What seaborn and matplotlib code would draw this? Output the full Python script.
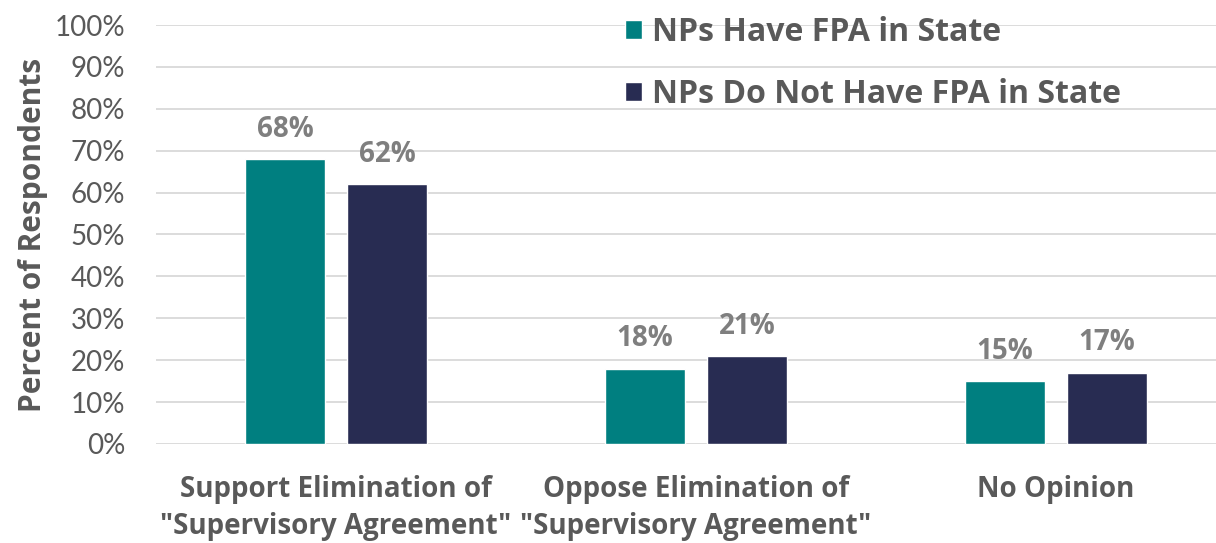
import numpy as np
import pandas as pd
import seaborn as sns
import matplotlib.pyplot as plt
from matplotlib.patches import Patch

# 数据
categories = ['Support Elimination of\n"Supervisory Agreement"',
              'Oppose Elimination of\n"Supervisory Agreement"',
              'No Opinion']
groups = ['NPs Have FPA in State', 'NPs Do Not Have FPA in State']
have_fpa = [68, 18, 15]
no_fpa = [62, 21, 17]
colors = ['#007F80', '#282C52']

df = pd.DataFrame({
    'category': categories * 2,
    'group': [groups[0]] * 3 + [groups[1]] * 3,
    'pct': have_fpa + no_fpa,
})

sns.set_style('white')
plt.rcParams['font.family'] = ['Lato', 'DejaVu Sans']
bold_font = ['Open Sans', 'DejaVu Sans']

fig = plt.figure(figsize=(12.16, 5.43), dpi=100)
ax = fig.add_axes([156 / 1216, 99 / 543, 1080 / 1216, 419 / 543])

sns.barplot(data=df, x='category', y='pct', hue='group', hue_order=groups,
            palette=colors, width=0.567, gap=0.216, saturation=1,
            errorbar=None, legend=False, ax=ax, zorder=2)

for c in ax.containers:
    ax.bar_label(c, fmt='%d%%', padding=11, fontsize=20, fontweight='bold',
                 family=bold_font, color='#7F7F7F')

ax.set_ylim(0, 100)
ax.set_xlim(-0.5, 2.5)
ax.set_yticks(np.arange(0, 101, 10))
ax.set_yticklabels([f'{v}%' for v in range(0, 101, 10)])
ax.yaxis.grid(True, color='#D9D9D9', linewidth=1.3, zorder=0)
ax.set_axisbelow(True)
sns.despine(ax=ax, left=True, bottom=True)

ax.tick_params(axis='y', length=0, pad=22, labelsize=20, labelcolor='#595959')
ax.tick_params(axis='x', length=0, pad=22, labelsize=20, labelcolor='#595959')
for t in ax.get_xticklabels():
    t.set_fontweight('bold')
    t.set_family(bold_font)
    t.set_linespacing(1.4)

ax.set_xlabel('')
ax.set_ylabel('Percent of Respondents', fontsize=21.5, fontweight='bold',
              family=bold_font, color='#595959')
ax.yaxis.set_label_coords(-108 / 1080, 0.5)

handles = [Patch(facecolor=c) for c in colors]
leg = fig.legend(handles, groups, loc='upper left',
                 bbox_to_anchor=(612 / 1216, 1 - 3 / 543),
                 frameon=False, fontsize=23, handlelength=0.55, handleheight=0.55,
                 handletextpad=0.3, labelspacing=0.92, borderaxespad=0)
for t in leg.get_texts():
    t.set_fontweight('bold')
    t.set_family(bold_font)
    t.set_color('#595959')

fig.savefig('out.png', dpi=100)
